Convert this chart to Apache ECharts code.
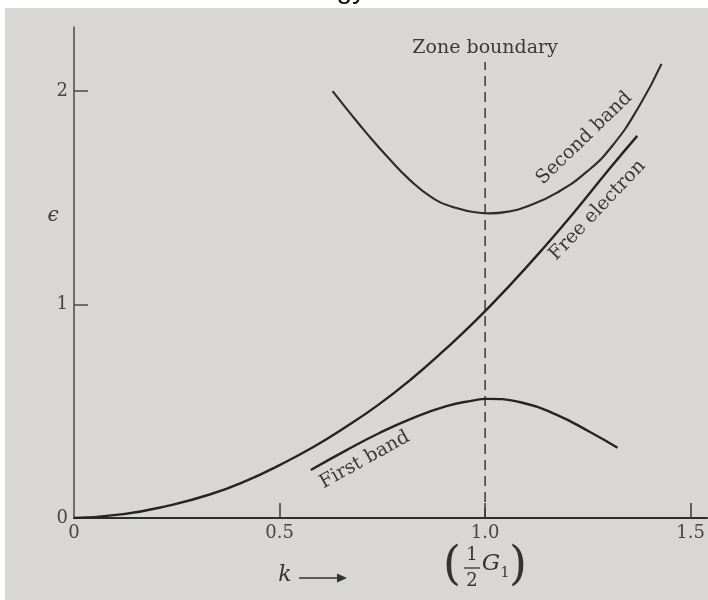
<!DOCTYPE html>
<html>
<head>
<meta charset="utf-8">
<style>
  html, body { margin: 0; padding: 0; background: #d7d6d2; }
  #chart { width: 708px; height: 600px; }
</style>
<script src="https://cdn.jsdelivr.net/npm/echarts@6/dist/echarts.min.js"></script>
</head>
<body>
<div id="chart"></div>
<script>
// Free-electron parabola and the two bands near the first zone boundary (k in units of G1/2)
const kFree = [0, 0.12, 0.23, 0.33, 0.42, 0.50, 0.58, 0.66, 0.74, 0.82, 0.90, 0.98, 1.06, 1.14, 1.22, 1.30, 1.37];
const eFree = [0, 0.018, 0.058, 0.110, 0.175, 0.248, 0.330, 0.425, 0.530, 0.650, 0.785, 0.930, 1.090, 1.260, 1.440, 1.630, 1.790];

const kFirst = [0.576, 0.663, 0.743, 0.824, 0.906, 0.969, 1.003, 1.091, 1.173, 1.254, 1.322];
const eFirst = [0.225, 0.318, 0.398, 0.468, 0.524, 0.550, 0.558, 0.540, 0.484, 0.404, 0.329];

const kSecond = [0.629, 0.671, 0.712, 0.760, 0.816, 0.872, 0.930, 0.986, 1.011, 1.052, 1.108, 1.174, 1.246, 1.310, 1.375, 1.429];
const eSecond = [2.000, 1.898, 1.802, 1.697, 1.585, 1.500, 1.452, 1.430, 1.427, 1.434, 1.464, 1.523, 1.620, 1.745, 1.930, 2.127];

// Zone boundary at k = G1/2
const zoneK = [1.0, 1.0];
const zoneE = [0, 2.136];

// Axis ticks and their labels
const xTicks = [0, 0.5, 1.0, 1.5];
const xTickLabels = ['0', '0.5', '1.0', '1.5'];
const yTicks = [0, 1, 2];
const yTickLabels = ['0', '1', '2'];

const pair = (ks, es) => ks.map((k, i) => [k, es[i]]);

const SERIF = '"DejaVu Serif", "Liberation Serif", serif';
const INK = '#242424';
const TEXT = '#3a3a3a';

const chart = echarts.init(document.getElementById('chart'), null, { renderer: 'canvas' });

const option = {
  backgroundColor: '#d8d7d3',
  animation: false,
  grid: { left: 74, right: 0, top: 27, bottom: 82 },
  xAxis: {
    type: 'value',
    min: 0,
    max: 1.54,
    axisLine: { lineStyle: { color: '#2e2e2e', width: 2 } },
    axisTick: {
      inside: true, length: 15,
      customValues: xTicks.slice(1),
      lineStyle: { color: '#3a3a3a', width: 1.5 }
    },
    axisLabel: {
      customValues: xTicks,
      formatter: v => xTickLabels[xTicks.indexOf(v)] || '',
      color: '#454545', fontFamily: SERIF, fontSize: 18, margin: 6
    },
    splitLine: { show: false }
  },
  yAxis: {
    type: 'value',
    min: 0,
    max: 2.30,
    axisLine: { show: true, lineStyle: { color: '#4a4a4a', width: 1.5 } },
    axisTick: {
      show: true, inside: true, length: 14,
      customValues: yTicks.slice(1),
      lineStyle: { color: '#4a4a4a', width: 1.5 }
    },
    axisLabel: {
      customValues: yTicks,
      formatter: v => yTickLabels[yTicks.indexOf(v)] || '',
      color: '#454545', fontFamily: SERIF, fontSize: 18, margin: 6
    },
    splitLine: { show: false }
  },
  series: [
    {
      name: 'Free electron', type: 'line', data: pair(kFree, eFree),
      smooth: 0.5, symbol: 'none', z: 3,
      lineStyle: { color: INK, width: 2.4 }
    },
    {
      name: 'First band', type: 'line', data: pair(kFirst, eFirst),
      smooth: 0.5, symbol: 'none', z: 3,
      lineStyle: { color: INK, width: 2.4 }
    },
    {
      name: 'Second band', type: 'line', data: pair(kSecond, eSecond),
      smooth: 0.5, symbol: 'none', z: 3,
      lineStyle: { color: '#2c2c2c', width: 2.1 }
    },
    {
      name: 'Zone boundary', type: 'line', data: pair(zoneK, zoneE),
      symbol: 'none', z: 2,
      lineStyle: { color: '#3a3a3a', width: 1.5, type: [10, 6] }
    }
  ]
};

chart.setOption(option);

// Text annotations anchored in data coordinates
const curveLabels = [
  { text: 'Second band', k: 1.241, e: 1.779, angle: 44 },
  { text: 'Free electron', k: 1.273, e: 1.441, angle: 46.5 },
  { text: 'First band', k: 0.707, e: 0.272, angle: 29 },
  { text: 'Zone boundary', k: 1.0, e: 2.20, angle: 0 }
];

const toPx = (k, e) => chart.convertToPixel({ gridIndex: 0 }, [k, e]);

const textEl = (x, y, text, opts) => ({
  type: 'text', x, y, rotation: opts.rotation || 0, z: 50,
  style: {
    text,
    fill: opts.fill || TEXT,
    fontFamily: opts.fontFamily || SERIF,
    fontSize: opts.fontSize || 19,
    fontStyle: opts.fontStyle || 'normal',
    fontWeight: opts.fontWeight || 'normal',
    align: opts.align || 'center',
    verticalAlign: opts.verticalAlign || 'middle',
    textAlign: opts.align || 'center',
    textVerticalAlign: opts.verticalAlign || 'middle'
  }
});

const graphics = [];

// page edge of the scan
graphics.push({ type: 'rect', z: 40, shape: { x: 0, y: 0, width: 708, height: 8 }, style: { fill: '#ffffff' } });
graphics.push({ type: 'rect', z: 40, shape: { x: 0, y: 0, width: 5, height: 600 }, style: { fill: '#ffffff' } });
graphics.push(textEl(366, -10, 'Energy', {
  align: 'right', fontFamily: '"Liberation Sans", Arial, sans-serif', fontSize: 28, fill: '#111111'
}));

curveLabels.forEach(l => {
  const p = toPx(l.k, l.e);
  graphics.push(textEl(p[0], p[1], l.text, { rotation: l.angle * Math.PI / 180, fontSize: 19 }));
});

// axis titles
graphics.push(textEl(53, 216, 'ϵ', { fontSize: 20, fontStyle: 'italic' }));
graphics.push(textEl(285, 575, 'k', { fontSize: 22, fontStyle: 'italic', fill: '#333' }));
graphics.push({
  type: 'line', z: 50,
  shape: { x1: 299, y1: 578, x2: 340, y2: 578 },
  style: { stroke: '#333', lineWidth: 1.6 }
});
graphics.push({
  type: 'polygon', z: 50,
  shape: { points: [[347, 578], [337, 573.5], [337, 582.5]] },
  style: { fill: '#333' }
});

// (½ G1) under the zone boundary tick
graphics.push(textEl(452, 567, '(', { fontSize: 46, fill: '#333' }));
graphics.push(textEl(472, 555, '1', { fontSize: 18, fill: '#333' }));
graphics.push({
  type: 'line', z: 50,
  shape: { x1: 464, y1: 568, x2: 480, y2: 568 },
  style: { stroke: '#333', lineWidth: 1.3 }
});
graphics.push(textEl(472, 581, '2', { fontSize: 18, fill: '#333' }));
graphics.push(textEl(491, 564, 'G', { fontSize: 23, fontStyle: 'italic', fill: '#333' }));
graphics.push(textEl(505, 573, '1', { fontSize: 14, fill: '#333' }));
graphics.push(textEl(518, 567, ')', { fontSize: 46, fill: '#333' }));

chart.setOption({ graphic: { elements: graphics } });
</script>
</body>
</html>
